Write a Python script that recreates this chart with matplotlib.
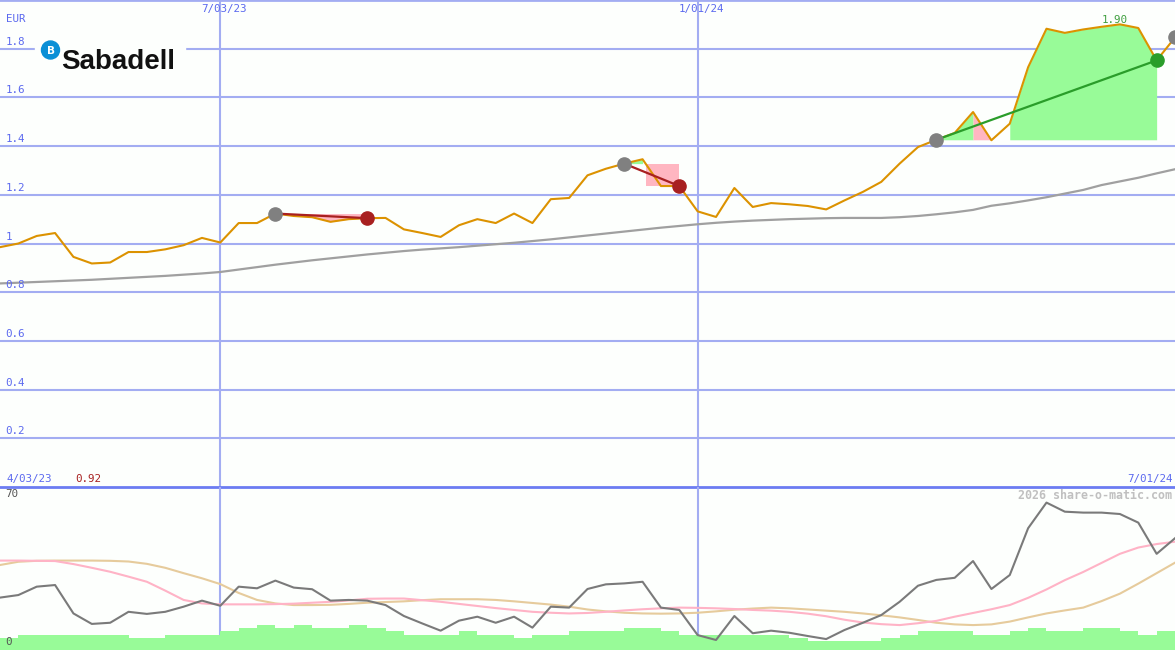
import matplotlib
matplotlib.use("Agg")
import matplotlib.pyplot as plt
import numpy as np

# weekly closes, week 0 = left edge
price = [0.985, 1.000, 1.031, 1.043, 0.945, 0.918, 0.922, 0.965, 0.965, 0.976,
         0.993, 1.023, 1.004, 1.084, 1.084, 1.123, 1.113, 1.108, 1.089, 1.100,
         1.104, 1.105, 1.058, 1.043, 1.027, 1.075, 1.100, 1.084, 1.123, 1.084,
         1.182, 1.187, 1.280, 1.307, 1.328, 1.346, 1.236, 1.236, 1.132, 1.109,
         1.228, 1.150, 1.166, 1.161, 1.154, 1.140, 1.177, 1.212, 1.253, 1.328,
         1.396, 1.426, 1.454, 1.540, 1.424, 1.492, 1.724, 1.882, 1.865, 1.879,
         1.890, 1.900, 1.885, 1.752, 1.846]

ma_long = [0.836, 0.839, 0.842, 0.845, 0.848, 0.851, 0.855, 0.859, 0.863, 0.867,
           0.872, 0.877, 0.883, 0.893, 0.903, 0.913, 0.922, 0.931, 0.939, 0.947,
           0.955, 0.962, 0.969, 0.975, 0.980, 0.985, 0.991, 0.997, 1.003, 1.010,
           1.017, 1.025, 1.033, 1.041, 1.049, 1.057, 1.065, 1.072, 1.079, 1.085,
           1.090, 1.094, 1.097, 1.100, 1.102, 1.104, 1.105, 1.105, 1.105, 1.108,
           1.113, 1.120, 1.128, 1.138, 1.155, 1.165, 1.177, 1.190, 1.205, 1.220,
           1.240, 1.255, 1.270, 1.288, 1.305]

osc = [22.5, 23.6, 27.2, 27.9, 15.7, 11.2, 11.7, 16.4, 15.5, 16.4,
       18.6, 21.2, 19.0, 27.2, 26.5, 29.8, 26.8, 26.1, 21.2, 21.5,
       21.2, 19.3, 14.6, 11.4, 8.3, 12.6, 14.3, 11.7, 14.3, 9.6,
       18.6, 18.2, 26.2, 28.2, 28.6, 29.3, 18.2, 17.2, 6.4, 4.3,
       14.6, 7.2, 8.3, 7.4, 6.0, 4.7, 8.6, 11.7, 15.0, 20.7,
       27.6, 30.1, 31.0, 38.2, 26.2, 32.2, 52.3, 63.3, 59.4, 59.0,
       59.0, 58.4, 54.7, 41.3, 48.0]

osc_fast = [38.4, 38.4, 38.3, 38.2, 36.9, 35.3, 33.6, 31.5, 29.3, 25.5,
            21.5, 20.0, 19.6, 19.6, 19.6, 19.7, 19.9, 20.3, 20.7, 21.3,
            22.0, 22.1, 22.1, 21.4, 20.7, 19.8, 18.9, 18.0, 17.2, 16.4,
            16.0, 15.7, 15.9, 16.4, 17.0, 17.5, 17.9, 18.2, 18.1, 17.9,
            17.6, 17.2, 16.9, 16.4, 15.6, 14.5, 13.0, 11.8, 11.1, 10.7,
            11.5, 12.5, 14.3, 15.9, 17.5, 19.3, 22.4, 26.0, 30.0, 33.5,
            37.4, 41.3, 44.0, 45.5, 46.5]

osc_slow = [36.5, 37.9, 38.3, 38.4, 38.4, 38.4, 38.3, 38.0, 37.0, 35.3,
            33.0, 30.8, 28.3, 24.5, 21.5, 20.0, 19.3, 19.3, 19.4, 19.8,
            20.3, 20.6, 20.9, 21.4, 21.8, 21.8, 21.8, 21.5, 20.9, 20.2,
            19.5, 18.6, 17.4, 16.6, 16.0, 15.7, 15.6, 15.7, 16.0, 16.6,
            17.3, 17.8, 18.2, 17.9, 17.4, 16.9, 16.4, 15.7, 14.9, 14.0,
            12.9, 11.7, 11.0, 10.7, 11.0, 12.2, 14.0, 15.7, 17.0, 18.2,
            21.0, 24.2, 28.5, 33.0, 37.5]

volume = [5.3, 6.4, 6.4, 6.4, 6.4, 6.4, 6.4, 5.3, 5.3, 6.4,
          6.4, 6.4, 8.2, 9.6, 10.7, 9.6, 10.7, 9.6, 9.6, 10.7,
          9.6, 8.2, 6.4, 6.4, 6.4, 8.2, 6.4, 6.4, 5.3, 6.4,
          6.4, 8.2, 8.2, 8.2, 9.6, 9.6, 8.2, 6.4, 6.4, 6.4,
          6.4, 6.4, 6.4, 5.3, 3.9, 3.9, 3.9, 3.9, 5.3, 6.4,
          8.2, 8.2, 8.2, 6.4, 6.4, 8.2, 9.6, 8.2, 8.2, 9.6,
          9.6, 8.2, 6.4, 8.2]

y_ticks = [0.2, 0.4, 0.6, 0.8, 1.0, 1.2, 1.4, 1.6, 1.8]
y_labels = ['0.2', '0.4', '0.6', '0.8', '1', '1.2', '1.4', '1.6', '1.8']
date_weeks = [12, 38]
date_labels = ['7/03/23', '1/01/24']
start_label = '4/03/23'
end_label = '7/01/24'

# (entry week, exit week)
trades = [(15, 20), (34, 37), (51, 63)]
next_entry = 64

weeks = np.arange(len(price))
price = np.array(price)

GRID = '#a3adf2'
SEP = '#6c7cf2'
BLUE = '#5b69ef'
ORANGE = '#dc9200'
PINK = '#ffb6c1'
LGREEN = '#98fb98'
DGREEN = '#2a9d2a'
DRED = '#a82020'
BG = '#fdfffd'
MONO = 'DejaVu Sans Mono'
FS = 7.8

fig = plt.figure(figsize=(11.75, 6.5), dpi=100, facecolor=BG)
ax = fig.add_axes([0, 163 / 650, 1, 487 / 650])
ax2 = fig.add_axes([0, 0, 1, 163 / 650])
for a in (ax, ax2):
    a.set_facecolor(BG)
    a.set_xlim(0, 64)
    a.axis('off')
ax.set_ylim(0, 2.0)
ax2.set_ylim(0, 70)

# grid
for t, lab in zip(y_ticks, y_labels):
    ax.axhline(t, color=GRID, lw=1.5, zorder=0)
    ax.text(0.3, t + 0.008, lab, color=BLUE, fontsize=FS, family=MONO,
            ha='left', va='bottom')
ax.axhline(2.0, color=GRID, lw=2, zorder=0)
ax.text(0.3, 1.9, 'EUR', color=BLUE, fontsize=FS, family=MONO, ha='left', va='bottom')
for wk, lab in zip(date_weeks, date_labels):
    ax.axvline(wk, color=GRID, lw=1.5, zorder=0)
    ax2.axvline(wk, color=GRID, lw=1.5, zorder=0)
    ax.text(wk + 0.2, 1.965, lab, color=BLUE, fontsize=FS, family=MONO,
            ha='center', va='center')
ax.axhline(0, color=SEP, lw=2, zorder=5, clip_on=False)
ax.text(0.35, 0.012, start_label, color=BLUE, fontsize=FS, family=MONO, ha='left', va='bottom')
ax.text(63.85, 0.012, end_label, color=BLUE, fontsize=FS, family=MONO, ha='right', va='bottom')

# trade shading
e1, x1 = trades[0]
seg = slice(e1, x1 + 1)
ax.fill_between(weeks[seg], price[seg], price[e1], where=price[seg] < price[e1],
                interpolate=True, color=PINK, lw=0, zorder=1)

e2, x2 = trades[1]
ax.fill_between(weeks[e2:e2 + 2], price[e2:e2 + 2], price[e2],
                where=price[e2:e2 + 2] >= price[e2], interpolate=True,
                color=LGREEN, lw=0, zorder=1)
cross = e2 + 1 + (price[e2 + 1] - price[e2]) / (price[e2 + 1] - price[e2 + 2])
ax.fill_between([cross, x2], price[e2 + 1:x2 + 1].min(), price[e2],
                color=PINK, lw=0, zorder=1)

e3, x3 = trades[2]
top = int(np.argmax(price[e3:e3 + 4])) + e3
ax.fill_between(weeks[e3:top + 1], price[e3:top + 1], price[e3], color=LGREEN, lw=0, zorder=1)
ax.fill_between(weeks[top:top + 2], price[top:top + 2], price[e3],
                where=price[top:top + 2] >= price[e3], interpolate=True,
                color=PINK, lw=0, zorder=1)
ax.fill_between(weeks[top + 2:x3 + 1], price[top + 2:x3 + 1], price[e3],
                color=LGREEN, lw=0, zorder=1)

# lines
ax.plot(weeks, ma_long, color='#a0a0a0', lw=1.6, zorder=2)
ax.plot(weeks, price, color=ORANGE, lw=1.5, zorder=3)

for e, x in trades:
    c = DGREEN if price[x] > price[e] else DRED
    ax.plot([e, x], [price[e], price[x]], color=c, lw=1.6, zorder=4)
    ax.plot(e, price[e], 'o', color='#808080', ms=9.5, zorder=5)
    ax.plot(x, price[x], 'o', color=c, ms=9.5, zorder=5)
ax.plot(next_entry, price[next_entry], 'o', color='#808080', ms=9.5, zorder=5, clip_on=False)

imin = int(np.argmin(price))
imax = int(np.argmax(price))
ax.text(imin - 0.2, 0.012, f'{price[imin]:.2f}', color=DRED, fontsize=FS, family=MONO,
        ha='center', va='bottom')
ax.text(imax - 0.3, price[imax] + 0.018, f'{price[imax]:.2f}', color='#3f9f3f',
        fontsize=FS, family=MONO, ha='center', va='center', zorder=2)

# logo
px = fig.dpi_scale_trans
fig.patches.append(plt.Rectangle((0.35, 5.74), 1.5, 0.38, transform=px,
                                 color=BG, zorder=3))
fig.patches.append(plt.Circle((0.505, 6.0), 0.09, transform=px,
                              color='#0a8fd6', zorder=4))
fig.text(51 / 1175, 1 - 50.5 / 650, 'B', color='white', fontsize=7.5, fontweight='bold',
         family='DejaVu Sans', ha='center', va='center', zorder=5)
fig.text(61 / 1175, 1 - 69 / 650, 'Sabadell', color='#111111', fontsize=20,
         fontweight='bold', family='Liberation Sans', ha='left', va='baseline', zorder=5)

# lower panel
ax2.bar(weeks[:-1], volume, width=1.0, align='edge', color=LGREEN, lw=0, zorder=1)
ax2.plot(weeks, osc_slow, color='#e6cb9c', lw=1.5, zorder=2)
ax2.plot(weeks, osc_fast, color='#ffb3c6', lw=1.5, zorder=2)
ax2.plot(weeks, osc, color='#7a7a7a', lw=1.5, zorder=3)
ax2.text(0.3, 69, '70', color='#555555', fontsize=FS, family=MONO, ha='left', va='top')
ax2.text(0.3, 1.2, '0', color='#555555', fontsize=FS, family=MONO, ha='left', va='bottom')
ax2.text(63.85, 69, '2026 share-o-matic.com', color='#c0c0c0', fontsize=8.4,
         fontweight='bold', family=MONO, ha='right', va='top')

fig.savefig('out.png', dpi=100, facecolor=BG)
